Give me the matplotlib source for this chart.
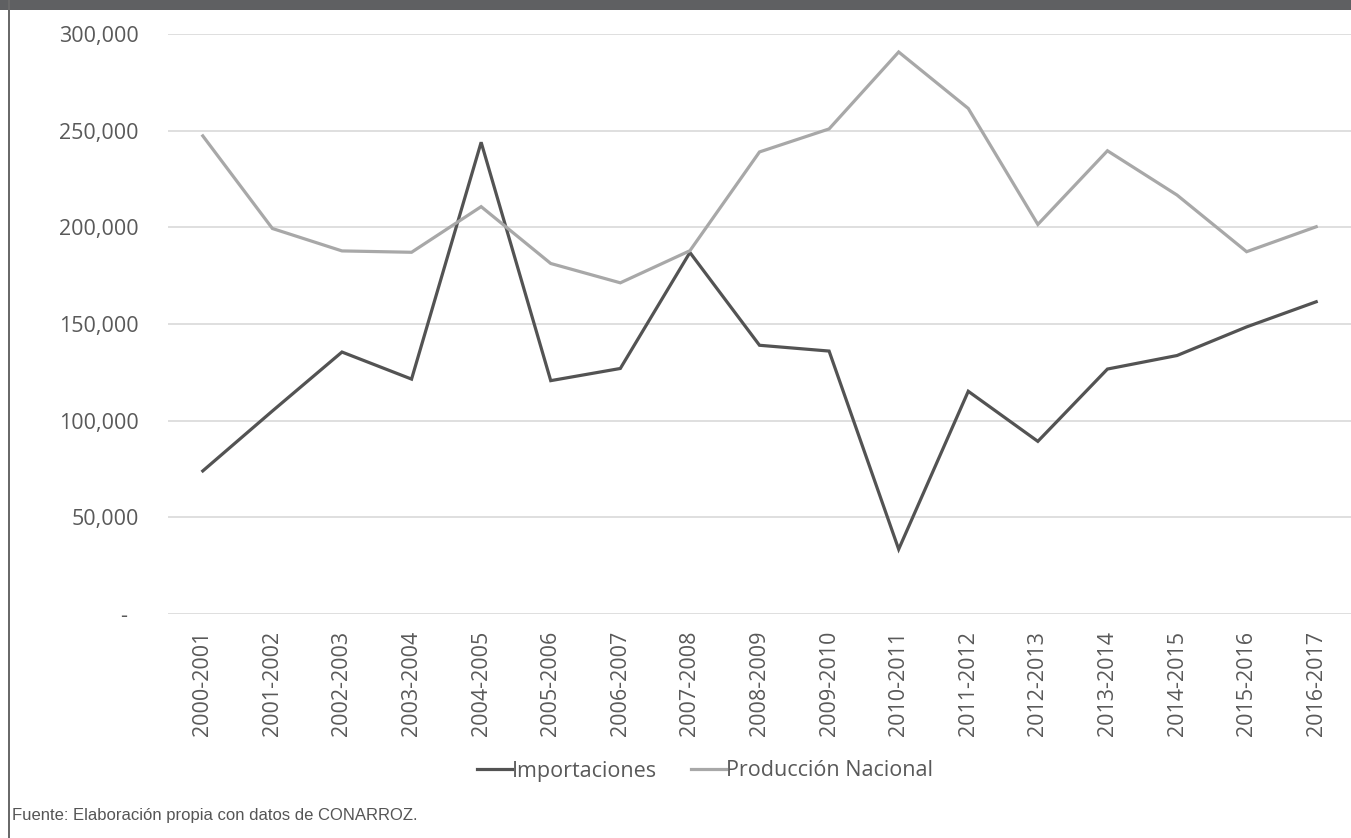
import matplotlib
matplotlib.use("Agg")
import matplotlib.pyplot as plt
from matplotlib.patches import Rectangle
from matplotlib.ticker import FuncFormatter, MultipleLocator

# Campañas arroceras
periodos = ["2000-2001", "2001-2002", "2002-2003", "2003-2004", "2004-2005",
            "2005-2006", "2006-2007", "2007-2008", "2008-2009", "2009-2010",
            "2010-2011", "2011-2012", "2012-2013", "2013-2014", "2014-2015",
            "2015-2016", "2016-2017"]

# Toneladas
importaciones = [74000, 105000, 135500, 121500, 244000, 120700, 127000, 187000,
                 139000, 136000, 33500, 115200, 89300, 126700, 133700, 148500,
                 161500]
produccion_nacional = [247300, 199400, 187800, 187100, 210700, 181300, 171300,
                       187900, 239000, 250900, 290700, 261500, 201500, 239600,
                       216700, 187400, 200300]

serie_labels = ["Importaciones", "Producción Nacional"]
fuente = "Fuente: Elaboración propia con datos de CONARROZ."

W, H = 1351, 838
fig = plt.figure(figsize=(W / 100, H / 100), dpi=100)
fig.patch.set_facecolor("white")

# Frame: dark band on top and thin rule on the left
fig.add_artist(Rectangle((0, 1 - 10 / H), 1, 10 / H, transform=fig.transFigure,
                         facecolor="#5f6062", edgecolor="none", zorder=5))
fig.add_artist(Rectangle((7.5 / W, 0), 2.5 / W, 1, transform=fig.transFigure,
                         facecolor="#6a6a6a", edgecolor="none", zorder=5))

left, right, top, bottom = 168, 1351, 34, 614
ax = fig.add_axes([left / W, 1 - bottom / H, (right - left) / W, (bottom - top) / H])

x = list(range(len(periodos)))
ax.plot(x, importaciones, color="#535353", lw=2.3, label=serie_labels[0],
        solid_joinstyle="miter", zorder=3)
ax.plot(x, produccion_nacional, color="#a8a8a8", lw=2.3, label=serie_labels[1],
        solid_joinstyle="miter", zorder=3)

ax.set_xlim(-0.5, len(periodos) - 0.5)
ax.set_ylim(0, 300000)
ax.yaxis.set_major_locator(MultipleLocator(50000))


def miles(v, pos):
    if v == 0:
        return "-  "
    return f"{int(v):,}"


ax.yaxis.set_major_formatter(FuncFormatter(miles))
ax.set_xticks(x)
ax.set_xticklabels(periodos, rotation=90)

font = "Open Sans"
for lab in ax.get_xticklabels() + ax.get_yticklabels():
    lab.set_fontfamily(font)
    lab.set_fontsize(15.5)
    lab.set_color("#595959")

ax.tick_params(axis="both", length=0)
ax.tick_params(axis="x", pad=12)
ax.tick_params(axis="y", pad=21)

ax.grid(axis="y", color="#d9d9d9", lw=1.2)
ax.set_axisbelow(True)
for s in ax.spines.values():
    s.set_visible(False)

leg = fig.legend(loc="center", bbox_to_anchor=(705 / W, 1 - 771 / H), ncol=2,
                 frameon=False, handlelength=1.6, handletextpad=0.0,
                 columnspacing=1.6, prop={"family": font, "size": 15.5})
for t in leg.get_texts():
    t.set_color("#595959")

fig.text(12 / W, 1 - 815 / H, fuente, family="Liberation Sans", fontsize=12,
         color="#555555", ha="left", va="center")

fig.savefig("out.png", dpi=100, facecolor="white")
